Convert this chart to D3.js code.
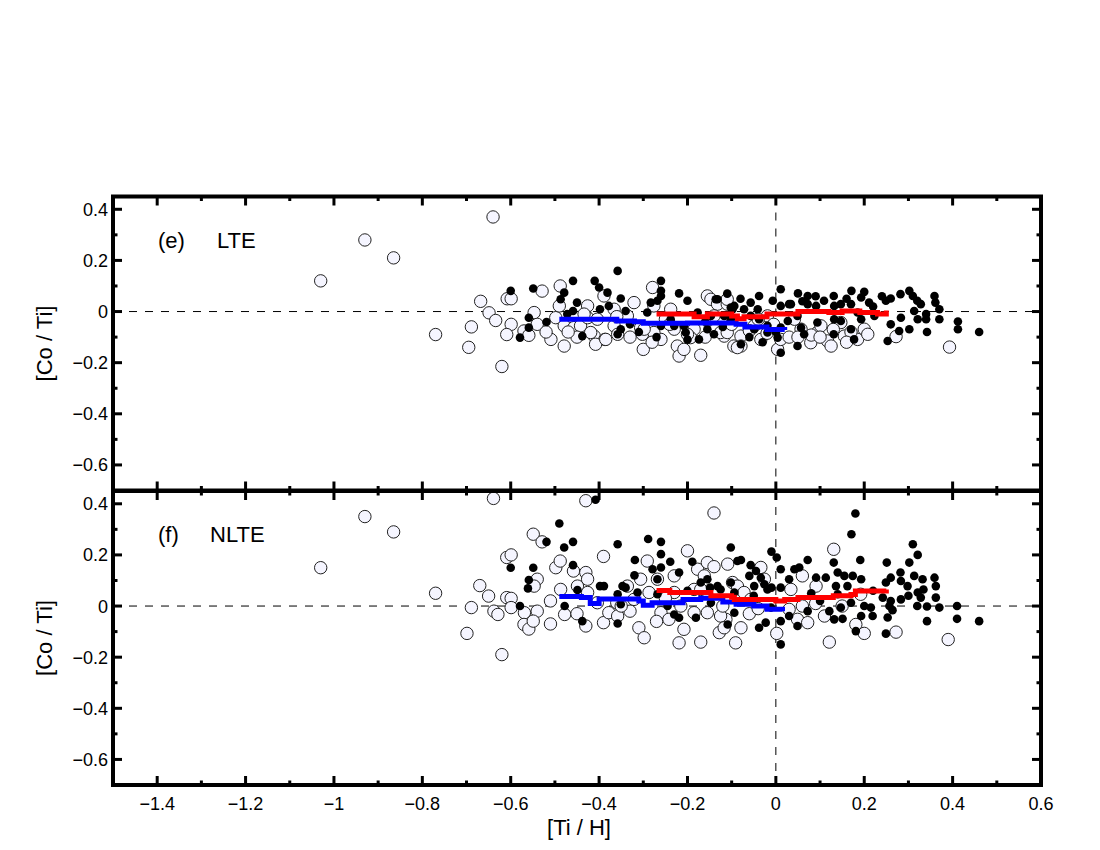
<!DOCTYPE html>
<html lang="en">
<head>
  <meta charset="UTF-8">
  <title>[Co/Ti] vs [Ti/H]</title>
  <style>
    body { margin: 0; background: #fff; }
    text { font-family: "Liberation Sans", Arial, sans-serif; fill: #000; }
    .open { fill: #f5f5ff; stroke: #222; stroke-width: 1px; }
    .filled { fill: #000; }
    .zero { stroke: #000; stroke-width: 1px; stroke-dasharray: 8, 8; }
    .frame { fill: none; stroke: #000; stroke-width: 4px; }
    .tick { stroke: #000; stroke-width: 3px; }
  </style>
</head>
<body>
  <svg width="1100" height="850"></svg>

  <script src="https://d3js.org/d3.v7.min.js"></script>
  <script>
    // ---- data ----
    var xTicks = [-1.4, -1.2, -1.0, -0.8, -0.6, -0.4, -0.2, 0, 0.2, 0.4, 0.6];
    var xMinor = [-1.3, -1.1, -0.9, -0.7, -0.5, -0.3, -0.1, 0.1, 0.3, 0.5];
    var yTicks = [-0.6, -0.4, -0.2, 0, 0.2, 0.4];
    var yMinor = [-0.5, -0.3, -0.1, 0.1, 0.3];

    // panel (e) LTE, open circles
    var lteOpen = [
      [-1.03,0.12],[-0.93,0.28],[-0.865,0.21],[-0.64,0.37],[-0.77,-0.09],[-0.695,-0.14],[-0.62,-0.215],
      [-0.668,0.04],[-0.608,0.05],[-0.599,0.05],[-0.649,-0.005],[-0.634,-0.035],[-0.689,-0.06],[-0.599,-0.05],
      [-0.609,-0.09],[-0.57,-0.076],[-0.559,-0.093],[-0.54,-0.05],[-0.547,-0.004],[-0.529,0.08],[-0.509,-0.109],
      [-0.498,-0.024],[-0.488,0.10],[-0.479,-0.056],[-0.479,-0.135],[-0.49,0.022],[-0.457,-0.063],[-0.442,-0.056],
      [-0.426,0.022],[-0.426,-0.024],[-0.411,-0.096],[-0.404,-0.03],[-0.389,0.061],[-0.387,-0.109],[-0.408,-0.128],
      [-0.366,-0.056],[-0.366,0.009],[-0.321,0.035],[-0.306,-0.063],[-0.302,-0.089],[-0.30,-0.148],[-0.279,0.094],
      [-0.276,0.022],[-0.26,-0.109],[-0.238,0.009],[-0.23,-0.069],[-0.223,-0.135],[-0.219,-0.174],[-0.208,-0.148],
      [-0.17,-0.171],[-0.155,0.061],[-0.147,0.048],[-0.132,0.029],[-0.117,-0.096],[-0.11,0.029],[-0.095,-0.135],
      [-0.185,-0.069],[-0.276,-0.082],[-0.193,-0.102],[-0.336,-0.017],[-0.434,-0.01],[-0.15,-0.03],[-0.125,-0.082],
      [-0.079,-0.096],[-0.079,-0.135],[-0.049,-0.056],[-0.034,-0.109],[0.004,-0.148],[0.011,-0.109],[0.057,-0.069],
      [0.079,-0.122],[0.094,-0.082],[0.117,-0.115],[0.125,-0.135],[0.155,-0.096],[0.185,-0.109],[0.20,-0.069],
      [0.208,-0.089],[0.272,-0.098],[0.393,-0.139],[-0.11,0.048],[-0.019,-0.017],[0.042,-0.03],[0.102,-0.056],
      [0.147,-0.043],[-0.419,-0.082],[-0.385,-0.109],[-0.358,-0.089],[-0.298,-0.069],[-0.2,-0.089],[-0.11,-0.082],
      [-0.087,-0.141],[-0.14,-0.017],[-0.06,-0.075],[-0.02,-0.085],[-0.1,-0.05],[0.03,-0.1],[0.08,-0.092],
      [0.13,-0.07],[0.17,-0.08],[-0.25,-0.03],[-0.33,-0.1],[-0.45,-0.1],[-0.52,-0.08],
      [-0.28,-0.12],[-0.24,-0.05],[-0.16,-0.1],[-0.04,-0.03],[0.05,-0.1],[0.1,-0.1],[0.16,-0.12],
      [-0.005,-0.05],[-0.36,-0.02],[-0.47,-0.08]
    ];
    // panel (e) LTE, filled circles
    var lteFilled = [
      [-0.358,0.159],[-0.41,0.12],[-0.40,0.094],[-0.351,0.051],[-0.378,0.022],[-0.34,0.002],[-0.26,0.12],
      [-0.26,0.081],[-0.283,0.035],[-0.268,0.042],[-0.219,0.071],[-0.20,0.042],[-0.177,-0.004],[-0.155,-0.069],
      [-0.174,-0.109],[-0.132,0.048],[-0.094,0.022],[-0.079,-0.128],[-0.057,0.035],[-0.041,0.009],[-0.007,0.042],
      [0.011,0.087],[0.011,-0.161],[0.034,0.029],[-0.019,-0.056],[-0.049,-0.069],[-0.102,-0.03],[-0.208,-0.056],
      [-0.238,-0.03],[-0.438,-0.096],[-0.351,-0.069],[-0.60,0.081],[-0.549,0.09],[-0.559,-0.024],[-0.559,-0.063],
      [-0.579,-0.102],[-0.519,-0.041],[-0.487,0.048],[-0.479,0.074],[-0.459,0.12],[-0.472,-0.01],[-0.45,0.035],
      [-0.459,0.002],[-0.381,0.074],[-0.398,0.009],[-0.358,-0.089],[-0.26,0.061],[-0.291,-0.004],[-0.26,-0.056],
      [-0.23,-0.056],[-0.204,-0.082],[-0.14,-0.089],[-0.102,0.016],[-0.147,-0.017],[0.05,0.071],[0.072,0.061],
      [0.131,0.061],[0.171,0.081],[0.20,0.077],[0.193,0.055],[0.211,0.035],[0.249,0.042],[0.26,0.051],
      [0.282,0.068],[0.302,0.081],[0.31,0.061],[0.32,0.042],[0.328,0.029],[0.359,0.061],[0.361,0.035],
      [0.37,0.009],[0.283,-0.024],[0.313,0.002],[0.321,-0.03],[0.34,-0.01],[0.34,-0.03],[0.37,-0.03],
      [0.412,-0.039],[0.412,-0.069],[0.46,-0.08],[0.342,-0.08],[0.302,-0.069],[0.26,-0.05],[0.279,-0.076],
      [0.253,-0.115],[-0.038,0.061],[0.011,0.022],[0.03,0.029],[0.049,-0.017],[0.072,0.029],[0.091,0.022],
      [0.109,0.042],[0.132,0.022],[0.147,0.029],[0.17,0.029],[0.185,-0.004],[0.223,-0.017],[0.132,-0.03],
      [0.147,-0.037],[0.094,-0.043],[0.057,-0.063],[0.027,-0.037],[0.011,-0.063],[0.004,-0.102],[-0.019,-0.082],
      [-0.038,-0.03],[-0.057,-0.017],[-0.072,0.009],[-0.098,0.009],[-0.117,-0.017],[-0.136,0.048],[0.17,-0.069],
      [0.193,-0.03],[0.177,-0.109],[0.131,-0.089],[0.049,-0.135],[0.064,-0.089],
      [-0.33,-0.05],[-0.31,-0.08],[-0.27,-0.1],[-0.2,-0.11],[-0.16,-0.04],[-0.12,-0.06],[-0.06,-0.1],
      [-0.03,-0.12],[0.0,-0.08],[-0.11,0.07],[-0.08,0.05],[0.06,0.04],[0.09,0.06],[0.16,0.05],[0.22,0.02],[0.24,0.06]
    ];
    // panel (f) NLTE, open circles
    var nlteOpen = [
      [-1.03,0.15],[-0.93,0.35],[-0.865,0.29],[-0.77,0.05],[-0.639,0.421],[-0.43,0.412],[-0.14,0.364],
      [-0.549,0.281],[-0.529,0.251],[-0.609,0.19],[-0.599,0.20],[-0.498,0.15],[-0.488,0.176],[-0.458,0.137],
      [-0.43,0.131],[-0.39,0.194],[-0.54,0.105],[-0.547,0.078],[-0.67,0.08],[-0.65,0.039],[-0.689,-0.006],
      [-0.609,0.033],[-0.599,0.03],[-0.638,-0.02],[-0.629,-0.033],[-0.599,-0.006],[-0.569,-0.026],[-0.54,-0.02],
      [-0.57,-0.072],[-0.559,-0.09],[-0.549,-0.059],[-0.51,-0.07],[-0.699,-0.107],[-0.62,-0.19],[-0.51,0.02],
      [-0.487,0.065],[-0.478,-0.033],[-0.449,0.078],[-0.426,0.105],[-0.426,0.053],[-0.43,-0.078],[-0.404,0.013],
      [-0.39,-0.065],[-0.378,-0.026],[-0.358,-0.039],[-0.36,0.013],[-0.336,0.078],[-0.321,0.026],[-0.306,0.105],
      [-0.31,-0.085],[-0.298,-0.124],[-0.287,0.053],[-0.268,0.105],[-0.26,-0.026],[-0.242,-0.052],[-0.23,0.118],
      [-0.219,-0.144],[-0.208,-0.091],[-0.20,0.216],[-0.185,-0.026],[-0.177,0.144],[-0.17,-0.141],[-0.155,0.17],
      [-0.14,0.154],[-0.128,-0.104],[-0.109,0.164],[-0.091,-0.144],[-0.079,-0.085],[-0.291,0.176],[-0.23,0.053],
      [-0.215,0.0],[-0.185,0.065],[-0.162,0.118],[-0.113,-0.052],[0.131,0.222],[-0.17,0.065],[-0.098,0.092],
      [-0.087,0.078],[-0.072,0.053],[-0.034,0.151],[-0.026,0.105],[-0.057,0.026],[-0.155,-0.026],[-0.125,-0.039],
      [-0.117,-0.085],[0.002,-0.107],[0.03,-0.013],[0.049,-0.052],[0.072,-0.065],[0.06,0.118],[0.091,0.078],
      [0.11,-0.039],[0.121,-0.141],[0.181,-0.072],[0.20,-0.107],[0.192,0.046],[0.272,-0.102],[0.39,-0.131],
      [0.034,0.065],[-0.33,-0.02],[-0.25,0.03],[-0.06,-0.03],[0.09,0.01],[0.15,0.0],
      [-0.45,-0.03],[-0.35,0.0],[-0.27,-0.06],[-0.12,0.0],[-0.04,-0.01],[0.06,0.0]
    ];
    // panel (f) NLTE, filled circles
    var nlteFilled = [
      [-0.49,0.323],[-0.459,0.251],[-0.479,0.229],[-0.519,0.251],[-0.60,0.15],[-0.549,0.15],[-0.559,0.102],
      [-0.561,0.069],[-0.579,0.0],[-0.478,0.0],[-0.449,0.063],[-0.459,0.16],[-0.438,-0.059],[-0.408,0.416],
      [-0.398,0.078],[-0.389,0.078],[-0.358,0.242],[-0.347,0.078],[-0.34,0.072],[-0.358,0.046],[-0.351,0.007],
      [-0.358,-0.068],[-0.319,0.18],[-0.289,0.262],[-0.26,0.251],[-0.26,0.203],[-0.279,0.144],[-0.26,0.151],
      [-0.239,0.173],[-0.219,0.131],[-0.268,0.105],[-0.313,0.053],[-0.268,0.046],[-0.245,0.0],[-0.23,-0.033],
      [-0.219,-0.046],[-0.189,0.173],[-0.17,0.092],[-0.181,-0.046],[-0.149,0.072],[-0.125,0.065],[-0.102,0.229],
      [-0.102,0.092],[-0.087,0.176],[-0.109,-0.072],[-0.094,-0.026],[0.18,0.362],[0.171,0.281],[0.31,0.242],
      [0.321,0.20],[0.302,0.17],[0.251,0.17],[0.191,0.18],[0.131,0.17],[0.072,0.18],[-0.01,0.213],
      [0.002,0.19],[0.011,0.144],[-0.079,0.18],[-0.057,0.16],[-0.045,0.137],[-0.034,0.111],[-0.06,0.118],
      [-0.026,0.085],[-0.01,0.072],[0.011,0.072],[0.03,0.105],[0.042,0.144],[0.053,0.151],[0.091,0.111],
      [0.113,0.111],[0.14,0.131],[0.155,0.118],[0.174,0.118],[0.193,0.105],[0.136,0.078],[0.162,0.078],
      [0.14,0.046],[0.17,0.013],[0.147,-0.006],[0.121,-0.02],[0.132,-0.052],[0.151,-0.05],[0.20,0.0],
      [0.215,-0.006],[0.219,-0.039],[0.193,-0.039],[0.181,-0.098],[0.249,0.092],[0.26,0.111],[0.282,0.131],
      [0.283,0.098],[0.298,0.078],[0.313,0.118],[0.332,0.105],[0.242,0.033],[0.26,0.02],[0.257,0.0],
      [0.264,-0.016],[0.253,-0.045],[0.249,-0.108],[0.283,0.026],[0.321,0.053],[0.334,0.065],[0.328,0.033],
      [0.359,0.111],[0.362,0.078],[0.362,0.033],[0.32,0.0],[0.342,-0.002],[0.37,-0.006],[0.41,0.0],
      [0.41,-0.05],[0.46,-0.059],[0.342,-0.059],[0.011,-0.15],[0.03,-0.039],[0.049,-0.078],[0.072,-0.02],
      [0.011,-0.059],[-0.011,-0.006],[-0.038,-0.085],[-0.023,-0.065],[-0.019,0.065],[-0.049,0.078],[-0.147,0.013],
      [-0.155,0.105],[-0.132,0.078],[-0.094,0.053],
      [-0.32,0.12],[-0.2,0.06],[-0.05,0.04],[0.08,0.05],[0.1,0.02],[0.22,0.06],[0.3,0.04]
    ];

    // running means (blue: open, red: filled), drawn as steps
    var lteBlue = [[-0.49,-0.03],[-0.37,-0.03],[-0.36,-0.037],[-0.32,-0.04],[-0.30,-0.046],[-0.2,-0.045],
      [-0.09,-0.05],[-0.07,-0.06],[-0.02,-0.07],[0.02,-0.072]];
    var lteRed = [[-0.27,-0.01],[-0.2,-0.01],[-0.185,-0.02],[-0.155,-0.01],[-0.1,-0.017],[-0.087,-0.028],
      [-0.072,-0.02],[-0.02,-0.01],[0.05,0.0],[0.12,-0.004],[0.15,0.002],[0.19,-0.004],[0.23,-0.01],[0.25,0.004]];
    var nlteBlue = [[-0.49,0.037],[-0.44,0.033],[-0.42,0.01],[-0.40,0.028],[-0.31,0.02],[-0.30,0.003],
      [-0.28,0.013],[-0.21,0.026],[-0.17,0.03],[-0.12,0.016],[-0.09,0.007],[-0.05,0.0],[-0.02,-0.013],[0.015,-0.02]];
    var nlteRed = [[-0.27,0.061],[-0.24,0.053],[-0.155,0.053],[-0.147,0.04],[-0.1,0.034],[-0.094,0.026],
      [0.0,0.02],[0.02,0.026],[0.05,0.033],[0.13,0.04],[0.17,0.045],[0.18,0.059],[0.25,0.065]];

    var panels = [
      {label: "(e)", name: "LTE", top: 196.5, open: lteOpen, filled: lteFilled, blue: lteBlue, red: lteRed},
      {label: "(f)", name: "NLTE", top: 491, open: nlteOpen, filled: nlteFilled, blue: nlteBlue, red: nlteRed}
    ];

    var svg = d3.select("svg");
    var left = 113, right = 1041, ph = 294;

    var x = d3.scaleLinear().domain([-1.5, 0.6]).range([left, right]);

    function fmt(v) {
      if (Math.abs(v) < 1e-9) return "0";
      var s = Math.abs(v - Math.round(v)) < 1e-9 ? String(Math.round(Math.abs(v))) : Math.abs(v).toFixed(1);
      return (v < 0 ? "\u2212" : "") + s;
    }

    panels.forEach(function(p, i) {
      var y = d3.scaleLinear().domain([-0.7, 0.45]).range([p.top + ph, p.top]);
      var g = svg.append("g");

      // reference lines
      g.append("line").attr("class", "zero")
        .attr("x1", left).attr("x2", right).attr("y1", y(0)).attr("y2", y(0));
      g.append("line").attr("class", "zero")
        .attr("x1", x(0)).attr("x2", x(0)).attr("y1", p.top).attr("y2", p.top + ph);

      g.selectAll("circle.open").data(p.open).enter().append("circle")
        .attr("class", "open").attr("r", 6.2)
        .attr("cx", d => x(d[0])).attr("cy", d => y(d[1]));

      g.selectAll("circle.filled").data(p.filled).enter().append("circle")
        .attr("class", "filled").attr("r", 4.3)
        .attr("cx", d => x(d[0])).attr("cy", d => y(d[1]));

      var line = d3.line().curve(d3.curveStepAfter).x(d => x(d[0])).y(d => y(d[1]));
      g.append("path").datum(p.blue).attr("d", line)
        .attr("fill", "none").attr("stroke", "#0000ff").attr("stroke-width", 5);
      g.append("path").datum(p.red).attr("d", line)
        .attr("fill", "none").attr("stroke", "#ff0000").attr("stroke-width", 5);

      // ticks on all four sides
      var bottom = p.top + ph;
      function xt(vals, len) {
        vals.forEach(function(v) {
          g.append("line").attr("class", "tick").attr("x1", x(v)).attr("x2", x(v))
            .attr("y1", bottom).attr("y2", bottom - len);
          g.append("line").attr("class", "tick").attr("x1", x(v)).attr("x2", x(v))
            .attr("y1", p.top).attr("y2", p.top + len);
        });
      }
      function yt(vals, len) {
        vals.forEach(function(v) {
          g.append("line").attr("class", "tick").attr("y1", y(v)).attr("y2", y(v))
            .attr("x1", left).attr("x2", left + len);
          g.append("line").attr("class", "tick").attr("y1", y(v)).attr("y2", y(v))
            .attr("x1", right).attr("x2", right - len);
        });
      }
      xt(xTicks, 9); xt(xMinor, 4.5);
      yt(yTicks, 9); yt(yMinor, 4.5);

      g.append("rect").attr("class", "frame")
        .attr("x", left).attr("y", p.top).attr("width", right - left).attr("height", ph);

      g.selectAll("text.yl").data(yTicks).enter().append("text")
        .attr("x", left - 5).attr("y", d => y(d)).attr("dy", "0.36em")
        .attr("text-anchor", "end").style("font-size", "18px").text(fmt);

      g.append("text").attr("transform", "translate(52," + (p.top + ph / 2) + ") rotate(-90)")
        .attr("text-anchor", "middle").style("font-size", "22px").text("[Co / Ti]");

      g.append("text").attr("x", 158).attr("y", p.top + 51).style("font-size", "22px").text(p.label);
      g.append("text").attr("x", p.name === "LTE" ? 217 : 210).attr("y", p.top + 51)
        .style("font-size", "22px").text(p.name);

      if (i === panels.length - 1) {
        g.selectAll("text.xl").data(xTicks).enter().append("text")
          .attr("x", d => x(d)).attr("y", bottom + 25)
          .attr("text-anchor", "middle").style("font-size", "18px").text(fmt);
        g.append("text").attr("x", (left + right) / 2 + 2).attr("y", bottom + 50)
          .attr("text-anchor", "middle").style("font-size", "22px").text("[Ti / H]");
      }
    });
  </script>
</body>
</html>
